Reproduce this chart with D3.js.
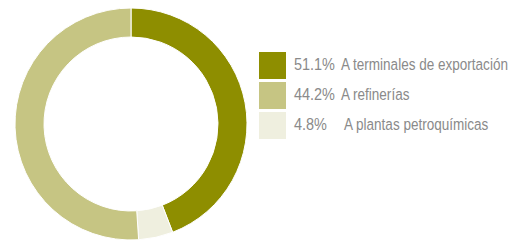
<!DOCTYPE html>
<html><head><meta charset="utf-8">
<script src="https://cdn.jsdelivr.net/npm/d3@7"></script>
<style>body{margin:0;background:#fff}svg{display:block}</style>
</head><body>
<svg id="c" width="532" height="241"></svg>
<script>
// Legend entries (as printed in the chart)
const categories = ["A terminales de exportación", "A refinerías", "A plantas petroquímicas"];
const percentLabels = ["51.1%", "44.2%", "4.8%"];
const legendColors = ["#8e8e00", "#c6c583", "#efefdf"];

// Ring slices as drawn, clockwise from 12 o'clock
const sliceValues = [44.2, 4.8, 51.1];
const sliceColors = ["#8e8e00", "#efefdf", "#c6c583"];

const svg = d3.select("#c");
const cx = 131, cy = 124, rOut = 116, rIn = 87;

const pie = d3.pie().sort(null).value(d => d);
const arc = d3.arc().innerRadius(rIn).outerRadius(rOut);
svg.append("g").attr("transform", `translate(${cx},${cy})`)
  .selectAll("path").data(pie(sliceValues)).join("path")
  .attr("d", arc)
  .attr("fill", (d, i) => sliceColors[i])
  .attr("stroke", "#fff").attr("stroke-width", 1);

const y = d3.scaleBand().domain(d3.range(categories.length)).range([52, 139]).paddingInner(0.1).paddingOuter(0);
const lg = svg.append("g");
const rows = lg.selectAll("g").data(categories).join("g")
  .attr("transform", (d, i) => `translate(259,${y(i)})`);
rows.append("rect").attr("width", 27).attr("height", y.bandwidth())
  .attr("fill", (d, i) => legendColors[i]);

const font = "'Liberation Sans', Arial, sans-serif";
const ty = y.bandwidth() / 2 + 4;
const pct = rows.append("text").attr("class", "pct")
  .attr("font-family", font).attr("font-size", 17).attr("fill", "#8a8a8a")
  .text((d, i) => percentLabels[i]);
const lab = rows.append("text").attr("class", "lab")
  .attr("font-family", font).attr("font-size", 17).attr("fill", "#8a8a8a")
  .text(d => d);
// condensed look: horizontally compress to match the original widths
const k = 167 / lab.node().getComputedTextLength();
const kp = 41 / pct.node().getComputedTextLength();
pct.attr("transform", `translate(35,${ty}) scale(${kp},1)`);
lab.attr("transform", (d, i) => `translate(${i === 2 ? 85 : 82},${ty}) scale(${k},1)`);
</script>
</body></html>
